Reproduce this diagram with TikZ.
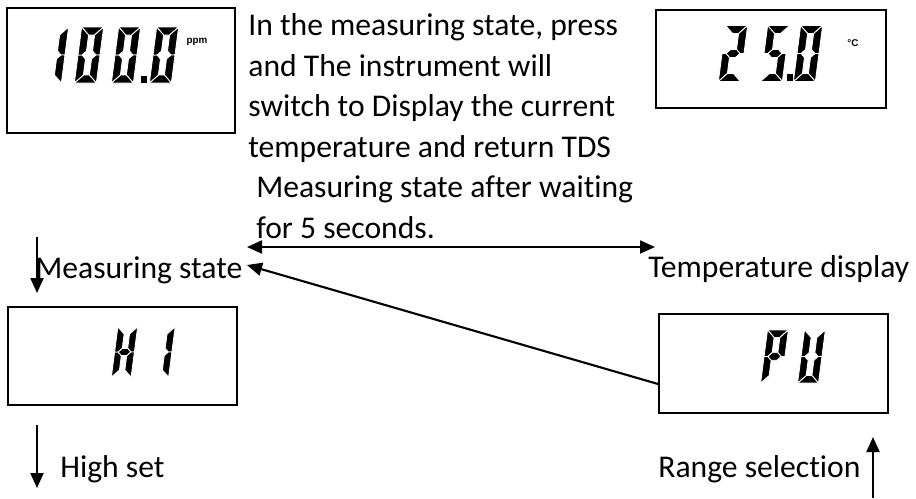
\documentclass[tikz,border=0pt]{standalone}
\usepackage{fontspec}
\setmainfont{Carlito}[Ligatures={NoCommon}]
\newfontfamily\unitfont{Liberation Sans}
\usetikzlibrary{arrows.meta}

% seven segment pieces a..g (pixel units, y down, centre of digit at origin)
\def\lcda{\filldraw[lcd_seg] (-11,-28) -- (11,-28) -- (3,-20) -- (-3,-20) -- cycle;}
\def\lcdd{\filldraw[lcd_seg] (-11,28) -- (11,28) -- (3,20) -- (-3,20) -- cycle;}
\def\lcdg{\filldraw[lcd_seg] (-7,0) -- (-3,-4) -- (3,-4) -- (7,0) -- (3,4) -- (-3,4) -- cycle;}
\def\lcdf{\filldraw[lcd_seg] (-11,-28) -- (-3,-20) -- (-3,-4) -- (-7,0) -- (-11,0) -- cycle;}
\def\lcdb{\filldraw[lcd_seg] (11,-28) -- (3,-20) -- (3,-4) -- (7,0) -- (11,0) -- cycle;}
\def\lcde{\filldraw[lcd_seg] (-11,28) -- (-3,20) -- (-3,4) -- (-7,0) -- (-11,0) -- cycle;}
\def\lcdc{\filldraw[lcd_seg] (11,28) -- (3,20) -- (3,4) -- (7,0) -- (11,0) -- cycle;}
\newcommand{\lcddigit}[3][1]{%
  \begin{scope}[shift={#2},scale=#1,xslant=0.13]
    \foreach \seg in {#3} {\csname lcd\seg\endcsname}
  \end{scope}}

\begin{document}
\begin{tikzpicture}[x=0.02cm,y=-0.02cm,
    lcd_box/.style={rectangle,draw,line width=1.1pt,inner sep=0pt},
    lcd_seg/.style={fill=black,draw=white,line width=0.5pt},
    info_text/.style={inner sep=0pt,font=\fontsize{18}{23}\selectfont},
    unit_text/.style={inner sep=0pt,font=\unitfont\bfseries\fontsize{5.6}{6}\selectfont},
    arr/.style={line width=1.2pt,-{Triangle[length=0.3cm,width=0.26cm]}},
    darr/.style={line width=1.2pt,{Triangle[length=0.3cm,width=0.26cm]}-{Triangle[length=0.3cm,width=0.26cm]}}]

    \useasboundingbox (0,0) rectangle (916,498);

    \node[lcd_box,minimum width=4.56cm,minimum height=2.5cm] (ppm) at (121,70.5) {};
    \node[lcd_box,minimum width=4.6cm,minimum height=1.96cm] (temp) at (771,59) {};
    \node[lcd_box,minimum width=4.58cm,minimum height=1.96cm] (hi) at (122.5,356) {};
    \node[lcd_box,minimum width=4.58cm,minimum height=1.98cm] (pu) at (773.5,363.5) {};

    % readings
    \lcddigit{(54,55)}{b,c}
    \lcddigit{(89,55)}{a,b,c,d,e,f}
    \lcddigit{(126,55)}{a,b,c,d,e,f}
    \fill (141,76) rectangle (147,83);
    \lcddigit{(164,55)}{a,b,c,d,e,f}
    \node[unit_text] (ppmunit) at (197,42) {ppm};

    \lcddigit{(733,53.5)}{a,b,g,e,d}
    \lcddigit{(775,53.5)}{a,f,g,c,d}
    \fill (787,74) rectangle (793,81);
    \lcddigit{(808,53.5)}{a,b,c,d,e,f}
    \node[unit_text] (tempunit) at (853,43) {\textdegree C};

    \lcddigit[0.9]{(124.5,352)}{b,c,e,f,g}
    \lcddigit[0.9]{(162,352)}{b,c}

    \lcddigit[0.95]{(774.5,356.5)}{a,b,e,f,g}
    \lcddigit[0.95]{(811.5,356.5)}{b,c,d,e,f}

    % texts
    \node[info_text,align=left,anchor=base west] (info) at (248,238) {In the measuring state, press\\
        and The instrument will\\
        switch to Display the current\\
        temperature and return TDS\\
        \hspace*{0.25em}Measuring state after waiting\\
        \hspace*{0.25em}for 5 seconds.};
    \node[info_text,anchor=base west] (meas) at (35,278) {Measuring state};
    \node[info_text,anchor=base west] (tempdisp) at (648,277) {Temperature display};
    \node[info_text,anchor=base west] (highset) at (60,477) {High set};
    \node[info_text,anchor=base west] (rangesel) at (658,477) {Range selection};

    % arrows
    \coordinate (m1) at (37,237);
    \coordinate (m2) at (37,293);
    \coordinate (h1) at (37,425);
    \coordinate (h2) at (37,488);
    \coordinate (r1) at (873,498);
    \coordinate (r2) at (873,437);
    \coordinate (t1) at (247,247);
    \coordinate (t2) at (655,247);
    \coordinate (pv) at (pu.west |- 0,384);
    \coordinate (mv) at (247,265);
    \draw[arr] (m1) -- (m2);
    \draw[arr] (h1) -- (h2);
    \draw[arr] (r1) -- (r2);
    \draw[darr] (t1) -- (t2);
    \draw[arr] (pv) -- (mv);

\end{tikzpicture}
\end{document}
